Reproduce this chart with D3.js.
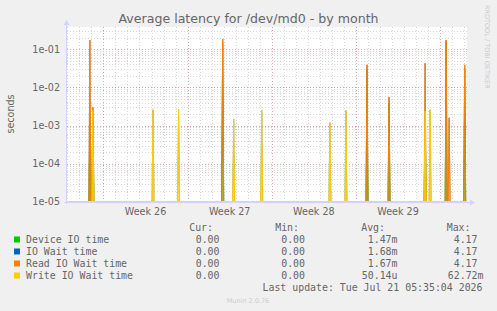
<!DOCTYPE html>
<html>
<head>
<meta charset="utf-8">
<script src="https://cdn.jsdelivr.net/npm/d3@7"></script>
<style>
  body { margin: 0; background: #f0f0f0; }
  svg { display: block; }
</style>
</head>
<body>
<div id="chart"></div>
<script>
// chart data
var seriesNames = ["Device IO time", "IO Wait time", "Read IO Wait time", "Write IO Wait time"];
var seriesColors = ["#00cc00", "#0066b3", "#ff8000", "#ffcc00"];

var spikeTimes = [
  "2026-06-19T21:00Z", "2026-06-20T03:00Z", "2026-06-25T03:00Z", "2026-06-27T06:00Z",
  "2026-06-30T22:00Z", "2026-07-01T20:00Z", "2026-07-04T04:00Z", "2026-07-09T20:00Z",
  "2026-07-11T04:00Z", "2026-07-12T22:00Z", "2026-07-14T18:00Z", "2026-07-17T18:00Z",
  "2026-07-18T04:00Z", "2026-07-19T12:00Z", "2026-07-19T18:00Z", "2026-07-21T01:00Z"
];
var deviceIO = [1.6e-3, 2.0e-3, 0, 0, 0.15, 0, 0, 0, 0, 0.03, 4e-3, 2e-3, 0, 0.16, 0, 0.03];
var ioWait   = [0.175, 3.0e-3, 2.6e-3, 2.7e-3, 0.186, 1.5e-3, 2.5e-3, 1.2e-3, 2.5e-3, 0.039, 5.6e-3, 0.043, 2.6e-3, 0.175, 1.6e-3, 0.039];
var readIO   = [0.175, 3.0e-3, 0, 0, 0.186, 0, 0, 0, 0, 0.039, 5.6e-3, 0.043, 0, 0.175, 1.6e-3, 0.039];
var writeIO  = [0, 2.5e-3, 2.6e-3, 2.7e-3, 0, 1.5e-3, 2.5e-3, 1.2e-3, 2.5e-3, 0, 0, 2.4e-3, 2.6e-3, 0, 0, 0];

var yTicks = [1e-5, 1e-4, 1e-3, 1e-2, 1e-1];
var weekLabels = ["Week 26", "Week 27", "Week 28", "Week 29"];
var weekStarts = ["2026-06-21T00:00Z", "2026-06-28T00:00Z", "2026-07-05T00:00Z", "2026-07-12T00:00Z", "2026-07-19T00:00Z"];

var legendCur = ["0.00", "0.00", "0.00", "0.00"];
var legendMin = ["0.00", "0.00", "0.00", "0.00"];
var legendAvg = ["1.47m", "1.68m", "1.67m", "50.14u"];
var legendMax = ["4.17", "4.17", "4.17", "62.72m"];

var timeStart = "2026-06-17T23:20Z";
var timeEnd = "2026-07-21T05:35Z";

//--------------------------------------------------------------------------
var svgWidth = 497;
var svgHeight = 311;
var margin = { top: 27, right: 30, bottom: 109, left: 67 };
var width = svgWidth - margin.left - margin.right;
var height = svgHeight - margin.top - margin.bottom;

var fontColor = "#666666";
var axisColor = "#cfd6f8";

var svg = d3.select("#chart")
  .append("svg")
  .attr("width", svgWidth)
  .attr("height", svgHeight)
  .style("background", "#f0f0f0");

var chartGroup = svg.append("g")
  .attr("transform", `translate(${margin.left}, ${margin.top})`);

var xScale = d3.scaleUtc()
  .domain([new Date(timeStart), new Date(timeEnd)])
  .range([0, width]);

var yScale = d3.scaleLog()
  .domain([1e-5, 0.383])
  .range([height, 0]);

// canvas
chartGroup.append("rect")
  .attr("width", width)
  .attr("height", height)
  .attr("fill", "#ffffff");

// minor horizontal grid (2..9 in each decade)
var minorY = [];
for (var e = -5; e <= -1; e++) {
  for (var m = 2; m <= 9; m++) {
    var v = m * Math.pow(10, e);
    if (v < 0.383) minorY.push(v);
  }
}
chartGroup.selectAll(".ygrid-minor")
  .data(minorY)
  .enter()
  .append("line")
  .attr("x1", 0).attr("x2", width)
  .attr("y1", d => Math.round(yScale(d)) + 0.5)
  .attr("y2", d => Math.round(yScale(d)) + 0.5)
  .attr("stroke", "#d8d8d8")
  .attr("stroke-dasharray", "1,2");

// minor vertical grid (daily)
var days = d3.utcDay.range(new Date(timeStart), new Date(timeEnd));
chartGroup.selectAll(".xgrid-minor")
  .data(days)
  .enter()
  .append("line")
  .attr("y1", 0).attr("y2", height)
  .attr("x1", d => Math.round(xScale(d)) + 0.5)
  .attr("x2", d => Math.round(xScale(d)) + 0.5)
  .attr("stroke", "#d8d8d8")
  .attr("stroke-dasharray", "1,2");

// major grid
chartGroup.selectAll(".ygrid-major")
  .data(yTicks.slice(1))
  .enter()
  .append("line")
  .attr("x1", 0).attr("x2", width)
  .attr("y1", d => Math.round(yScale(d)) + 0.5)
  .attr("y2", d => Math.round(yScale(d)) + 0.5)
  .attr("stroke", "#e4a4a4")
  .attr("stroke-dasharray", "1,2");

chartGroup.selectAll(".xgrid-major")
  .data(weekStarts.map(d => new Date(d)))
  .enter()
  .append("line")
  .attr("y1", 0).attr("y2", height)
  .attr("x1", d => Math.round(xScale(d)) + 0.5)
  .attr("x2", d => Math.round(xScale(d)) + 0.5)
  .attr("stroke", "#e4a4a4")
  .attr("stroke-dasharray", "1,2");

// spikes, one little triangle per sample
var seriesValues = [deviceIO, ioWait, readIO, writeIO];
var fillOpacity = [0.5, 0, 0.45, 0.7];
var strokeWidth = [1, 0.5, 1, 1];
var halfStep = 2 * 3600 * 1000;

seriesValues.forEach(function(values, si) {
  var pts = [];
  values.forEach(function(v, i) {
    if (v > 0) pts.push({ t: new Date(spikeTimes[i]), v: v });
  });
  chartGroup.append("g")
    .selectAll("path")
    .data(pts)
    .enter()
    .append("path")
    .attr("d", function(d) {
      var x0 = xScale(new Date(d.t.getTime() - halfStep));
      var x1 = xScale(d.t);
      var x2 = xScale(new Date(d.t.getTime() + halfStep));
      return `M${x0},${height}L${x1},${yScale(d.v)}L${x2},${height}`;
    })
    .attr("fill", seriesColors[si])
    .attr("fill-opacity", fillOpacity[si])
    .attr("stroke", seriesColors[si])
    .attr("stroke-width", strokeWidth[si]);
});

// zero line along the bottom
chartGroup.append("line")
  .attr("x1", 0).attr("x2", width)
  .attr("y1", height - 0.5).attr("y2", height - 0.5)
  .attr("stroke", "#e8d6a0");

// axes
chartGroup.append("line")
  .attr("x1", -0.5).attr("x2", -0.5)
  .attr("y1", height + 2).attr("y2", -3)
  .attr("stroke", axisColor);
chartGroup.append("path")
  .attr("d", `M-3.5,-2L-0.5,-7L2.5,-2Z`)
  .attr("fill", axisColor);

chartGroup.append("line")
  .attr("x1", -3).attr("x2", width + 4)
  .attr("y1", height + 0.5).attr("y2", height + 0.5)
  .attr("stroke", axisColor);
chartGroup.append("path")
  .attr("d", `M${width + 3},${height - 2.5}L${width + 8},${height + 0.5}L${width + 3},${height + 3.5}Z`)
  .attr("fill", axisColor);

// y tick labels
chartGroup.selectAll(".ylabel")
  .data(yTicks)
  .enter()
  .append("text")
  .attr("x", -7)
  .attr("y", d => yScale(d))
  .attr("dy", "0.35em")
  .attr("text-anchor", "end")
  .attr("font-family", "DejaVu Sans")
  .attr("font-size", 9.6)
  .attr("fill", fontColor)
  .text(d => d3.format(".0e")(d).replace(/e([-+])(\d)$/, "e$10$2"));

// week labels centred between week boundaries
chartGroup.selectAll(".xlabel")
  .data(weekLabels)
  .enter()
  .append("text")
  .attr("x", (d, i) => (xScale(new Date(weekStarts[i])) + xScale(new Date(weekStarts[i + 1]))) / 2)
  .attr("y", height + 10)
  .attr("dy", "0.35em")
  .attr("text-anchor", "middle")
  .attr("font-family", "DejaVu Sans")
  .attr("font-size", 9.6)
  .attr("fill", fontColor)
  .text(d => d);

// title
svg.append("text")
  .attr("x", 248.5)
  .attr("y", 19)
  .attr("dy", "0.35em")
  .attr("text-anchor", "middle")
  .attr("font-family", "DejaVu Sans")
  .attr("font-size", 12.6)
  .attr("fill", fontColor)
  .text("Average latency for /dev/md0 - by month");

// y axis title
svg.append("text")
  .attr("transform", "translate(11, 114) rotate(-90)")
  .attr("dy", "0.35em")
  .attr("text-anchor", "middle")
  .attr("font-family", "DejaVu Sans")
  .attr("font-size", 9.6)
  .attr("fill", fontColor)
  .text("seconds");

// side watermark
svg.append("text")
  .attr("transform", "translate(487, 5) rotate(90)")
  .attr("dy", "0.35em")
  .attr("font-family", "DejaVu Sans")
  .attr("font-size", 6.5)
  .attr("fill", "#cccccc")
  .text("RRDTOOL / TOBI OETIKER");

//--------------------------------------------------------------------------
// legend
var mono = "DejaVu Sans Mono";
var legendFont = 9.9;
var legendGroup = svg.append("g");

var headers = [["Cur:", 213], ["Min:", 299], ["Avg:", 385], ["Max:", 470.5]];
headers.forEach(function(h) {
  legendGroup.append("text")
    .attr("x", h[1]).attr("y", 228).attr("dy", "0.35em")
    .attr("text-anchor", "end")
    .attr("font-family", mono).attr("font-size", legendFont)
    .attr("fill", fontColor)
    .text(h[0]);
});

var rowY = d3.scaleLinear().domain([0, 1]).range([239.5, 251.5]);

seriesNames.forEach(function(name, i) {
  var y = rowY(i);
  legendGroup.append("rect")
    .attr("x", 14).attr("y", y - 3)
    .attr("width", 6).attr("height", 6)
    .attr("fill", seriesColors[i]);
  legendGroup.append("text")
    .attr("x", 26).attr("y", y).attr("dy", "0.35em")
    .attr("font-family", mono).attr("font-size", legendFont)
    .attr("fill", fontColor)
    .text(name);

  var cols = [[legendCur[i], 219.5], [legendMin[i], 305], [legendAvg[i], 397.5], [legendMax[i], 483.5]];
  cols.forEach(function(c, ci) {
    var txt = c[0];
    var pad = /[a-z]$/.test(txt) ? 0 : 1;
    // unitless numbers leave room for the missing suffix
    var xr = c[1] - ((ci === 3 && pad) ? 6 : 0);
    if (ci === 2 && pad) xr -= 6;
    legendGroup.append("text")
      .attr("x", xr).attr("y", y).attr("dy", "0.35em")
      .attr("text-anchor", "end")
      .attr("font-family", mono).attr("font-size", legendFont)
      .attr("fill", fontColor)
      .text(txt);
  });
});

legendGroup.append("text")
  .attr("x", 482.5).attr("y", 287.5).attr("dy", "0.35em")
  .attr("text-anchor", "end")
  .attr("font-family", mono).attr("font-size", legendFont)
  .attr("fill", fontColor)
  .text("Last update: Tue Jul 21 05:35:04 2026");

svg.append("text")
  .attr("x", 248).attr("y", 300.5).attr("dy", "0.35em")
  .attr("text-anchor", "middle")
  .attr("font-family", "DejaVu Sans")
  .attr("font-size", 6.5)
  .attr("fill", "#cccccc")
  .text("Munin 2.0.76");
</script>
</body>
</html>
